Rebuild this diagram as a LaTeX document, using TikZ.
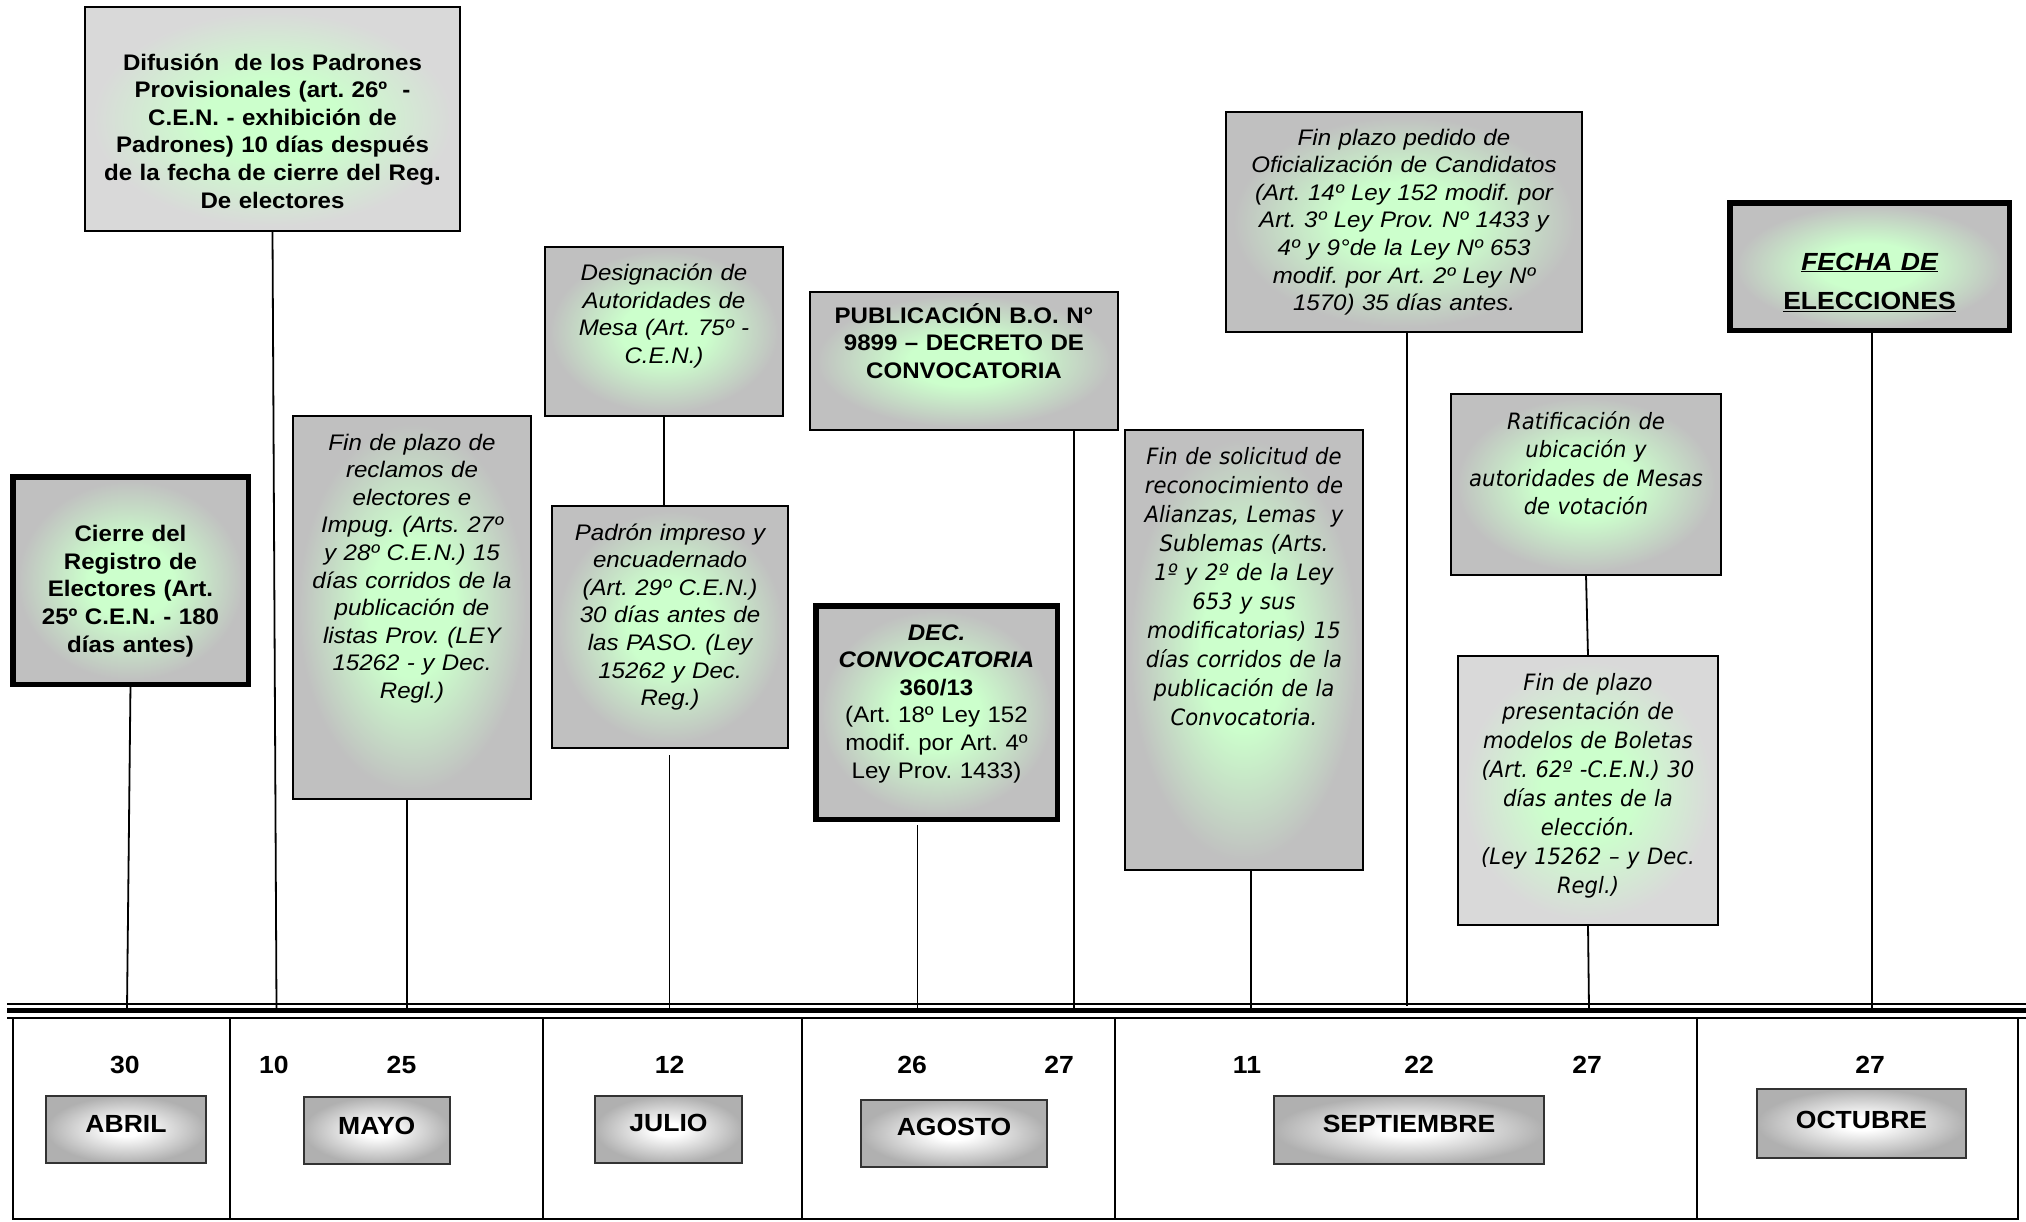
\documentclass[tikz,border=0pt]{standalone}
\usepackage{fontspec}
\setmainfont{Liberation Sans}[FakeStretch=1.07]
\newfontfamily\tahfam{DejaVu Sans}[FakeStretch=0.94]
\frenchspacing
\definecolor{boxgray}{HTML}{C0C0C0}
\definecolor{boxlight}{HTML}{D9D9D9}
\definecolor{glowgreen}{HTML}{CCFFCC}
\definecolor{mongray}{HTML}{B0B0B0}
\pgfdeclareradialshading{glowdark}{\pgfpoint{0bp}{0bp}}{color(0bp)=(glowgreen); color(9bp)=(glowgreen); color(24bp)=(boxgray); color(50bp)=(boxgray)}
\pgfdeclareradialshading{glowlight}{\pgfpoint{0bp}{0bp}}{color(0bp)=(glowgreen); color(9bp)=(glowgreen); color(24bp)=(boxlight); color(50bp)=(boxlight)}
\pgfdeclareradialshading{monthsh}{\pgfpoint{0bp}{0bp}}{color(0bp)=(white); color(5bp)=(white); color(25bp)=(mongray); color(50bp)=(mongray)}
\newcommand\arialtxt{\fontsize{22.5}{27.6}\selectfont}
\newcommand\tahtxt[1]{\tahfam\itshape\fontsize{22.5}{#1}\selectfont}
\tikzset{
  evbox/.style={draw=black, line width=2pt, shading=glowdark, inner sep=0pt, outer sep=0pt, align=center, anchor=base},
  lightbox/.style={shading=glowlight},
  heavy/.style={line width=5.5pt},
  conn/.style={line width=1.8pt, draw=black},
  monbox/.style={draw=black!80, line width=2pt, shading=monthsh, inner sep=0pt, outer sep=0pt, align=center, anchor=base, font=\fontsize{24.8}{28}\selectfont\bfseries},
  daynum/.style={anchor=base, inner sep=0pt, font=\fontsize{24.8}{28}\selectfont\bfseries},
  tline/.style={line width=2pt},
  tthick/.style={line width=5pt},
  grid/.style={line width=2pt},
}
\begin{document}
\begin{tikzpicture}[x=1pt,y=-1pt]
\useasboundingbox (0,0) rectangle (2026,1221);
\fill[white] (0,0) rectangle (2026,1221);

% event boxes
\node[evbox, lightbox, font=\arialtxt\bfseries, text width=375pt, text height=63pt, text depth=161pt] (dif) at (272.5,70)
 {Difusión~ de los Padrones\\Provisionales (art. 26º~ -\\C.E.N. - exhibición de\\Padrones) 10 días después\\de la fecha de cierre del Reg.\\De electores};
\node[evbox, heavy, font=\arialtxt\bfseries, text width=235.5pt, text height=64.85pt, text depth=142.65pt] (cierre) at (130.5,541.6)
 {Cierre del\\Registro de\\Electores (Art.\\25º C.E.N. - 180\\días antes)};
\node[evbox, font=\arialtxt\itshape, text width=238pt, text height=34pt, text depth=349pt] (recl) at (412,450)
 {Fin de plazo de\\reclamos de\\electores e\\Impug. (Arts. 27º\\y 28º C.E.N.) 15\\días corridos de la\\publicación de\\listas Prov. (LEY\\15262 - y Dec.\\Regl.)};
\node[evbox, font=\arialtxt\itshape, text width=238pt, text height=33.6pt, text depth=135.4pt] (desig) at (664,280.6)
 {Designación de\\Autoridades de\\Mesa (Art. 75º -\\C.E.N.)};
\node[evbox, font=\arialtxt\itshape, text width=236pt, text height=34pt, text depth=208pt] (padron) at (670,540)
 {Padrón impreso y\\encuadernado\\(Art. 29º C.E.N.)\\30 días antes de\\las PASO. (Ley\\15262 y Dec.\\Reg.)};
\node[evbox, font=\arialtxt\bfseries, text width=308pt, text height=31.3pt, text depth=106.7pt] (publ) at (964,323.3)
 {PUBLICACIÓN B.O. N°\\9899 – DECRETO DE\\CONVOCATORIA};
\node[evbox, heavy, font=\arialtxt, text width=241.5pt, text height=34.25pt, text depth=179.25pt] (dec) at (936.5,640)
 {{\bfseries\itshape DEC.}\\{\bfseries\itshape CONVOCATORIA}\\{\bfseries 360/13}\\(Art. 18º Ley 152\\modif. por Art. 4º\\Ley Prov. 1433)};
\node[evbox, font=\tahtxt{29.1}, text width=238pt, text height=34pt, text depth=406pt] (solic) at (1244,464)
 {Fin de solicitud de\\reconocimiento de\\Alianzas, Lemas~ y\\Sublemas (Arts.\\1º y 2º de la Ley\\653 y sus\\modificatorias) 15\\días corridos de la\\publicación de la\\Convocatoria.};
\node[evbox, font=\arialtxt\itshape, text width=356pt, text height=33pt, text depth=187pt] (pedido) at (1404,145)
 {Fin plazo pedido de\\Oficialización de Candidatos\\(Art. 14º Ley 152 modif. por\\Art. 3º Ley Prov. Nº 1433 y\\4º y 9°de la Ley Nº 653\\modif. por Art. 2º Ley Nº\\1570) 35 días antes.};
\node[evbox, heavy, font=\fontsize{24.8}{39.5}\selectfont\bfseries, text width=279.5pt, text height=67.25pt, text depth=60.25pt] (fecha) at (1869.5,270)
 {\underline{\itshape FECHA DE}\\\underline{ELECCIONES}};
\node[evbox, font=\tahtxt{28.5}, text width=270pt, text height=35pt, text depth=146pt] (ratif) at (1586,429)
 {Ratificación de\\ubicación y\\autoridades de Mesas\\de votación};
\node[evbox, lightbox, font=\tahtxt{29.1}, text width=260pt, text height=34pt, text depth=235pt] (present) at (1588,690)
 {Fin de plazo\\presentación de\\modelos de Boletas\\(Art. 62º -C.E.N.) 30\\días antes de la\\elección.\\(Ley 15262 – y Dec.\\Regl.)};

% timeline points
\coordinate (tCierre) at (127,1009);
\coordinate (tDif) at (276.5,1009);
\coordinate (tRecl) at (407,1009);
\coordinate (tPadron) at (669.5,1009);
\coordinate (tDec) at (917.5,1009);
\coordinate (tPubl) at (1074,1009);
\coordinate (tSolic) at (1251,1009);
\coordinate (tPedido) at (1407,1006);
\coordinate (tPres) at (1589,1009);
\coordinate (tFecha) at (1872,1009);

% connectors
\draw[conn] (cierre.south) -- (tCierre);
\draw[conn] (dif.south) -- (tDif);
\draw[conn] (tRecl |- recl.south) -- (tRecl);
\draw[conn] (desig.south) -- (desig.south |- padron.north);
\draw[conn] ([yshift=-7pt]tPadron |- padron.south) -- (tPadron);
\draw[conn] ([yshift=-6pt]tDec |- dec.south) -- (tDec);
\draw[conn] (tPubl |- publ.south) -- (tPubl);
\draw[conn] (tSolic |- solic.south) -- (tSolic);
\draw[conn] (tPedido |- pedido.south) -- (tPedido);
\draw[conn] (ratif.south) -- (present.north);
\draw[conn] (present.south) -- (tPres);
\draw[conn] (tFecha |- fecha.south) -- (tFecha);

% timeline
\draw[tline] (7,1004) -- (2026,1004);
\draw[tthick] (7,1010.5) -- (2026,1010.5);
\draw[tline] (7,1018) -- (2026,1018);

% month table
\draw[grid] (13,1018) rectangle (2018,1219);
\foreach \gx in {230,543,802,1115,1697} \draw[grid] (\gx,1018) -- (\gx,1219);

% day numbers
\node[daynum] (d30a) at (125,1073) {30};
\node[daynum] (d10m) at (274,1073) {10};
\node[daynum] (d25m) at (401.5,1073) {25};
\node[daynum] (d12j) at (669.5,1073) {12};
\node[daynum] (d26a) at (912,1073) {26};
\node[daynum] (d27a) at (1059,1073) {27};
\node[daynum] (d11s) at (1247,1073) {11};
\node[daynum] (d22s) at (1419,1073) {22};
\node[daynum] (d27s) at (1587,1073) {27};
\node[daynum] (d27o) at (1870,1073) {27};

% month boxes
\node[monbox, text width=160pt, text height=36pt, text depth=31pt] (abril) at (126,1132) {ABRIL};
\node[monbox, text width=146.5pt, text height=37pt, text depth=30pt] (mayo) at (376.75,1134) {MAYO};
\node[monbox, text width=147pt, text height=35.6pt, text depth=31.4pt] (julio) at (668.5,1131.6) {JULIO};
\node[monbox, text width=186pt, text height=35.6pt, text depth=31.4pt] (agosto) at (954,1135.6) {AGOSTO};
\node[monbox, text width=270pt, text height=36pt, text depth=32pt] (sept) at (1409,1132) {SEPTIEMBRE};
\node[monbox, text width=209pt, text height=39pt, text depth=30pt] (oct) at (1861.5,1128) {OCTUBRE};
\end{tikzpicture}
\end{document}
